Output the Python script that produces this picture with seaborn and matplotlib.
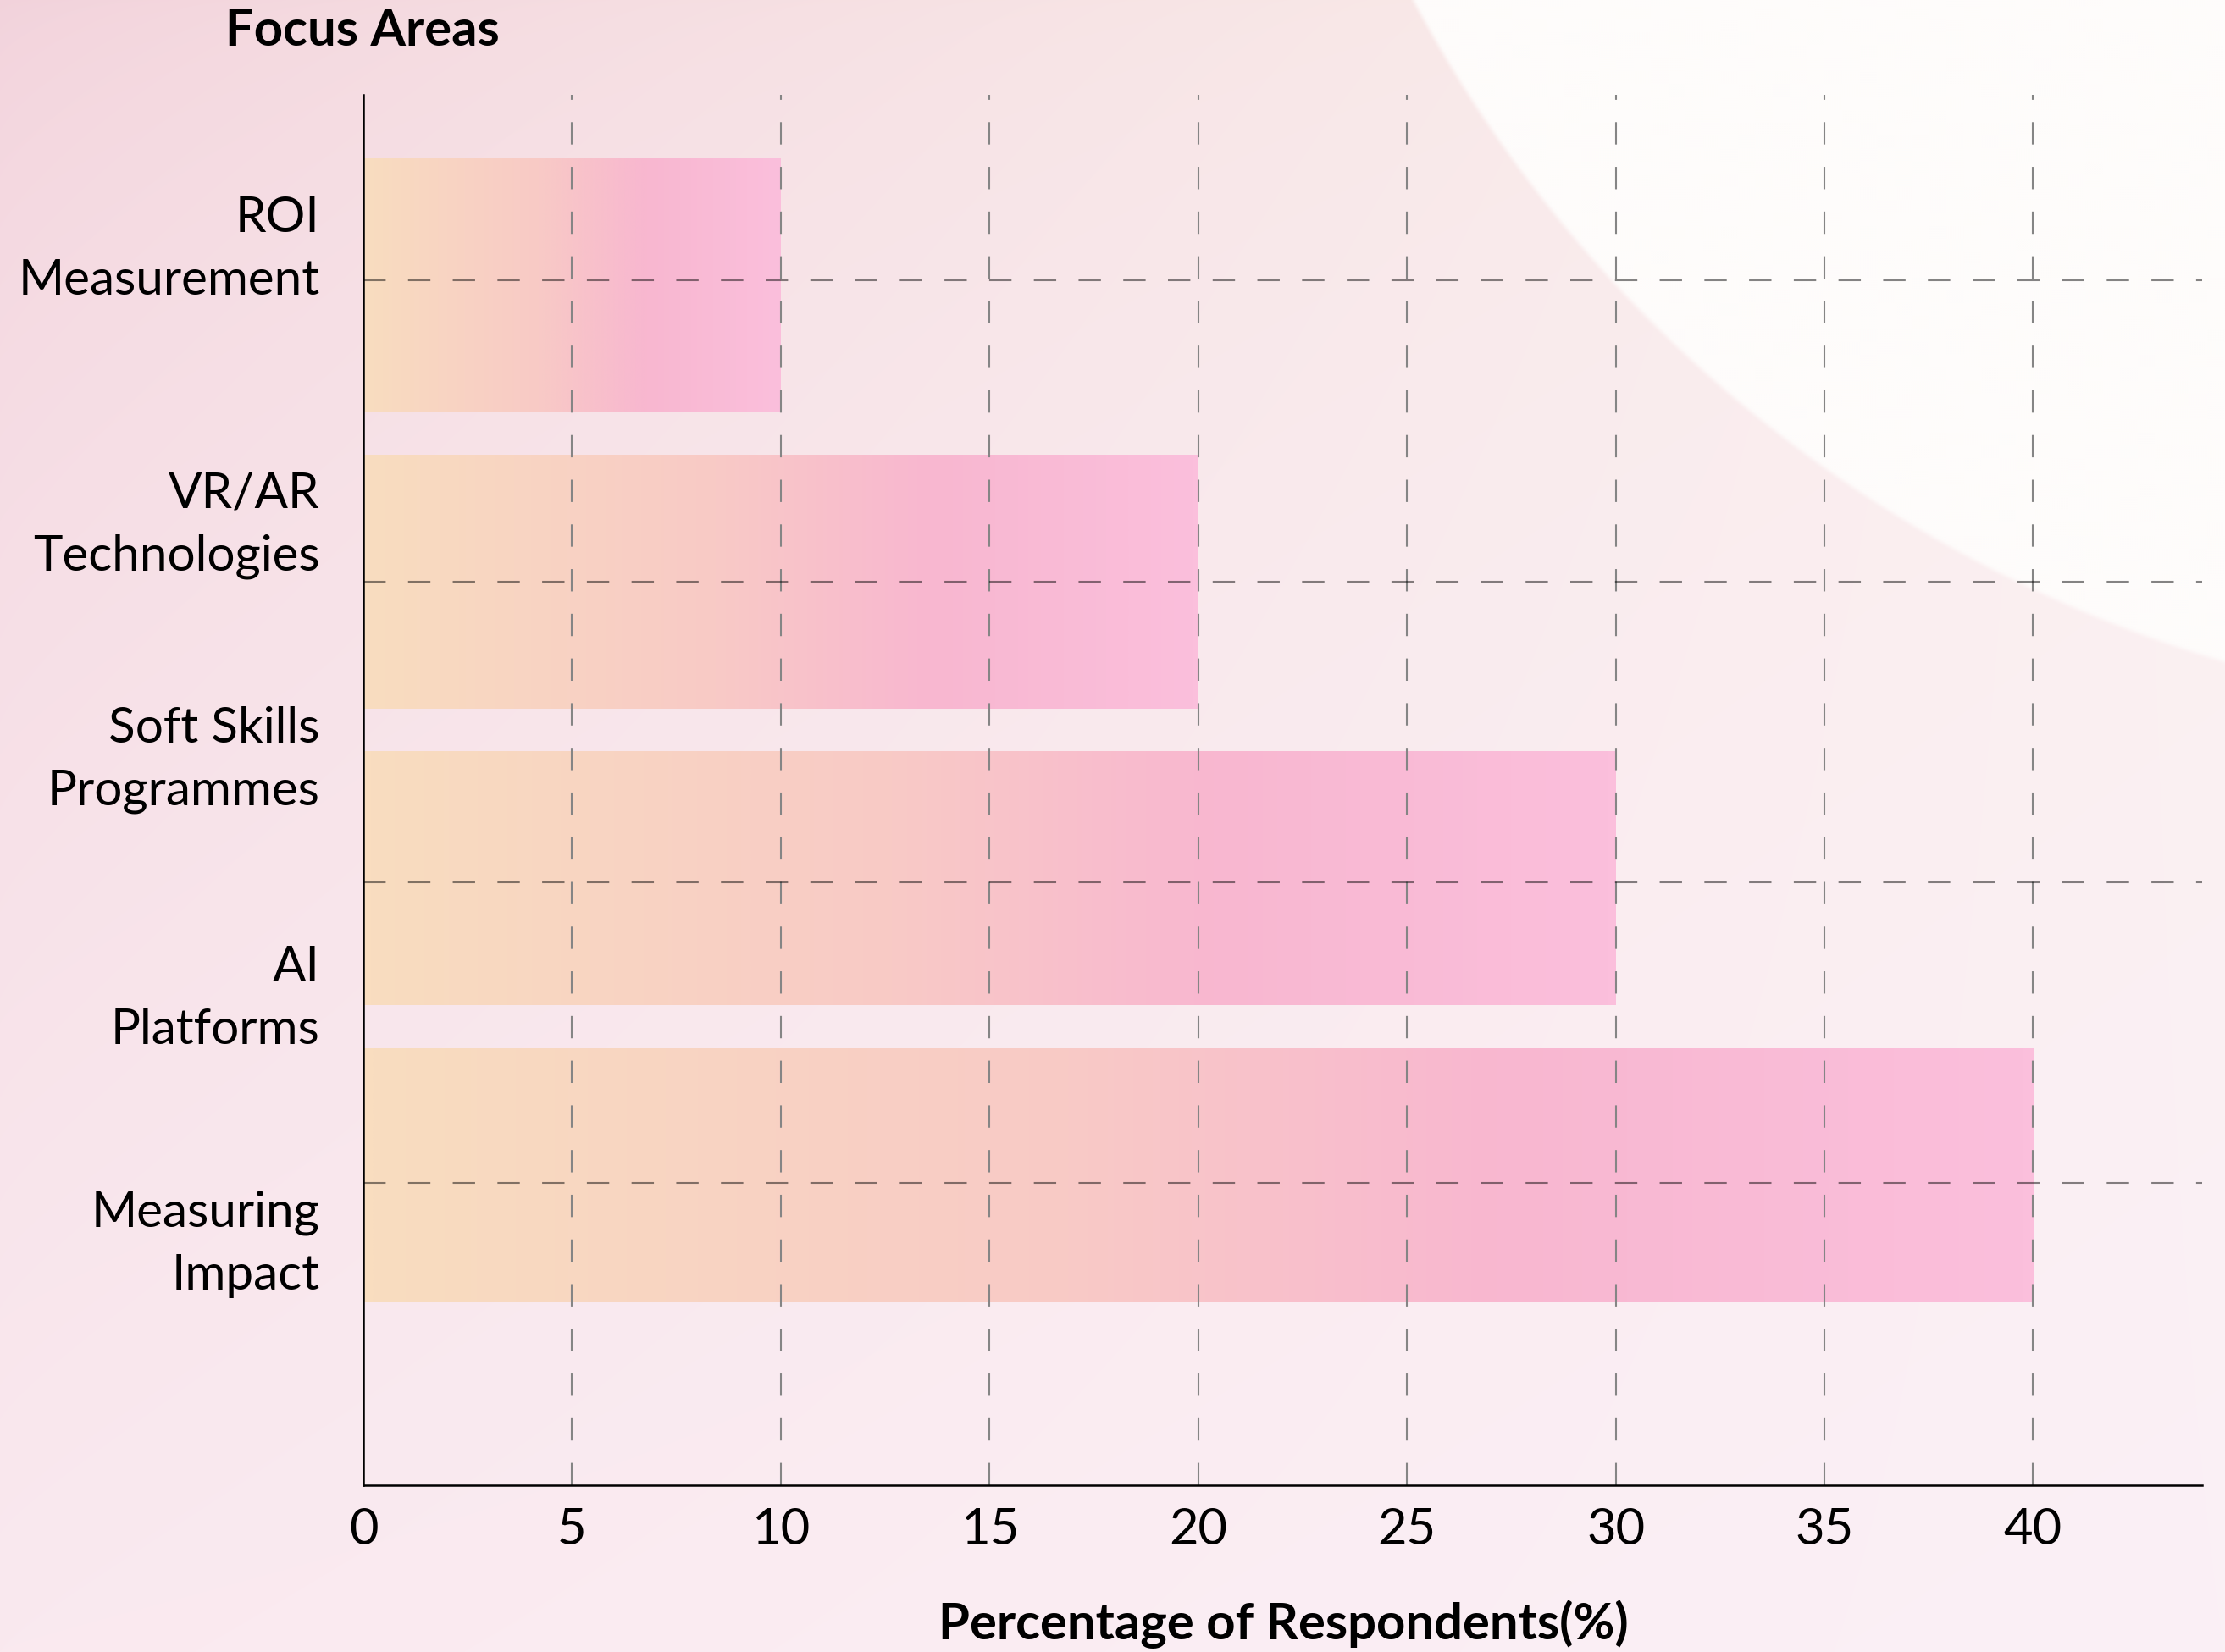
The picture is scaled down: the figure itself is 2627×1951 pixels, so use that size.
import numpy as np
import pandas as pd
import matplotlib
matplotlib.use("Agg")
import matplotlib.pyplot as plt
import seaborn as sns
from matplotlib.colors import LinearSegmentedColormap, to_rgb

# ---- chart content ----
categories = ["ROI\nMeasurement", "VR/AR\nTechnologies", "Soft Skills\nProgrammes",
              "AI\nPlatforms", "Measuring\nImpact"]
bar_values = [10, 20, 30, 40]
x_ticks = [0, 5, 10, 15, 20, 25, 30, 35, 40]
title_text = "Focus Areas"
x_label_text = "Percentage of Respondents(%)"

# ---- layout (row units: one unit per bar slot) ----
label_rows = [-0.166, 0.763, 1.556, 2.362, 3.19]
grid_rows = [-0.017, 0.998, 2.013, 3.028]
row_limits = (4.047, -0.644)
x_limits = (0, 44.05)

W, H, DPI = 2627, 1951, 100

sns.set_theme(style="white")
plt.rcParams["font.family"] = ["Lato", "DejaVu Sans"]
plt.rcParams["lines.scale_dashes"] = False

fig = plt.figure(figsize=(W / DPI, H / DPI), dpi=DPI)

# ---- soft pink backdrop with a pale disc in the top-right corner ----
bg = fig.add_axes([0, 0, 1, 1], zorder=-10)
h2, w2 = H // 2, W // 2
yy, xx = np.mgrid[0:h2, 0:w2].astype(np.float32)
u = xx / (w2 - 1)
v = yy / (h2 - 1)
tl = np.array(to_rgb("#f2d2db"))
tr = np.array(to_rgb("#fbf1ec"))
bl = np.array(to_rgb("#fae9ef"))
br = np.array(to_rgb("#fbf0f6"))
vt = v ** 0.6
ut = u ** 0.8
img = (((1 - ut) * (1 - vt))[..., None] * tl + (ut * (1 - vt))[..., None] * tr
       + ((1 - ut) * vt)[..., None] * bl + (ut * vt)[..., None] * br)
cx, cy, r = 3075 / 2, -750 / 2, 1595 / 2
d = np.hypot(xx - cx, yy - cy)
m = np.clip((r - d) / 3 + 0.5, 0, 1)[..., None]
inner = np.array(to_rgb("#fefcfb"))
img = img * (1 - m) + inner * m
bg.imshow(img, extent=[0, W, H, 0], aspect="auto", interpolation="bilinear")
bg.set_xlim(0, W)
bg.set_ylim(H, 0)
bg.axis("off")

# ---- main axes ----
ax = fig.add_axes([429 / W, 1 - 1754 / H, (2600 - 429) / W, (1754 - 112) / H])
ax.patch.set_alpha(0)

df = pd.DataFrame({"value": bar_values, "row": np.arange(len(bar_values))})
sns.barplot(data=df, x="value", y="row", orient="h", native_scale=True,
            width=0.857, ax=ax, color="#f9c4cc", zorder=2)

# peach-to-pink gradient fill along each bar
bar_cmap = LinearSegmentedColormap.from_list(
    "peach_pink", [(0.0, "#f9ddbf"), (0.42, "#f8cac6"), (0.68, "#f8b7d0"), (1.0, "#fbbfdc")])
grad = np.linspace(0, 1, 256)[None, :]
for p in list(ax.patches):
    x0, y0, w, h = p.get_x(), p.get_y(), p.get_width(), p.get_height()
    p.set_facecolor("none")
    p.set_edgecolor("none")
    im = ax.imshow(grad, cmap=bar_cmap, extent=[x0, x0 + w, y0 + h, y0],
                   aspect="auto", zorder=2, interpolation="bicubic")
    im.set_clip_path(p)

# dashed grid
dash = (0, (19, 19))
for xv in x_ticks[1:]:
    ax.axvline(xv, color="#858585", lw=1.5, ls=dash, zorder=3)
for yv in grid_rows:
    ax.axhline(yv, color="black", alpha=0.48, lw=1.5, ls=dash, zorder=3)

ax.set_xlim(*x_limits)
ax.set_ylim(*row_limits)
ax.set_xticks(x_ticks)
ax.set_xticklabels([str(t) for t in x_ticks], fontsize=43)
ax.set_yticks(label_rows)
ax.set_yticklabels(categories, fontsize=42, linespacing=1.48, ha="right")
ax.tick_params(axis="x", length=0, pad=19, colors="black")
ax.tick_params(axis="y", length=0, pad=37, colors="black")
ax.set_xlabel("")
ax.set_ylabel("")
ax.grid(False)

for side in ["top", "right"]:
    ax.spines[side].set_visible(False)
for side in ["left", "bottom"]:
    ax.spines[side].set_color("black")
    ax.spines[side].set_linewidth(1.8)
    ax.spines[side].set_zorder(4)

fig.text(428 / W, 1 - 37 / H, title_text, ha="center", va="center",
         fontsize=43, fontweight="bold", color="black")
fig.text(1515 / W, 1 - 1918 / H, x_label_text, ha="center", va="center",
         fontsize=43, fontweight="bold", color="black")

fig.savefig("out.png", dpi=DPI)
